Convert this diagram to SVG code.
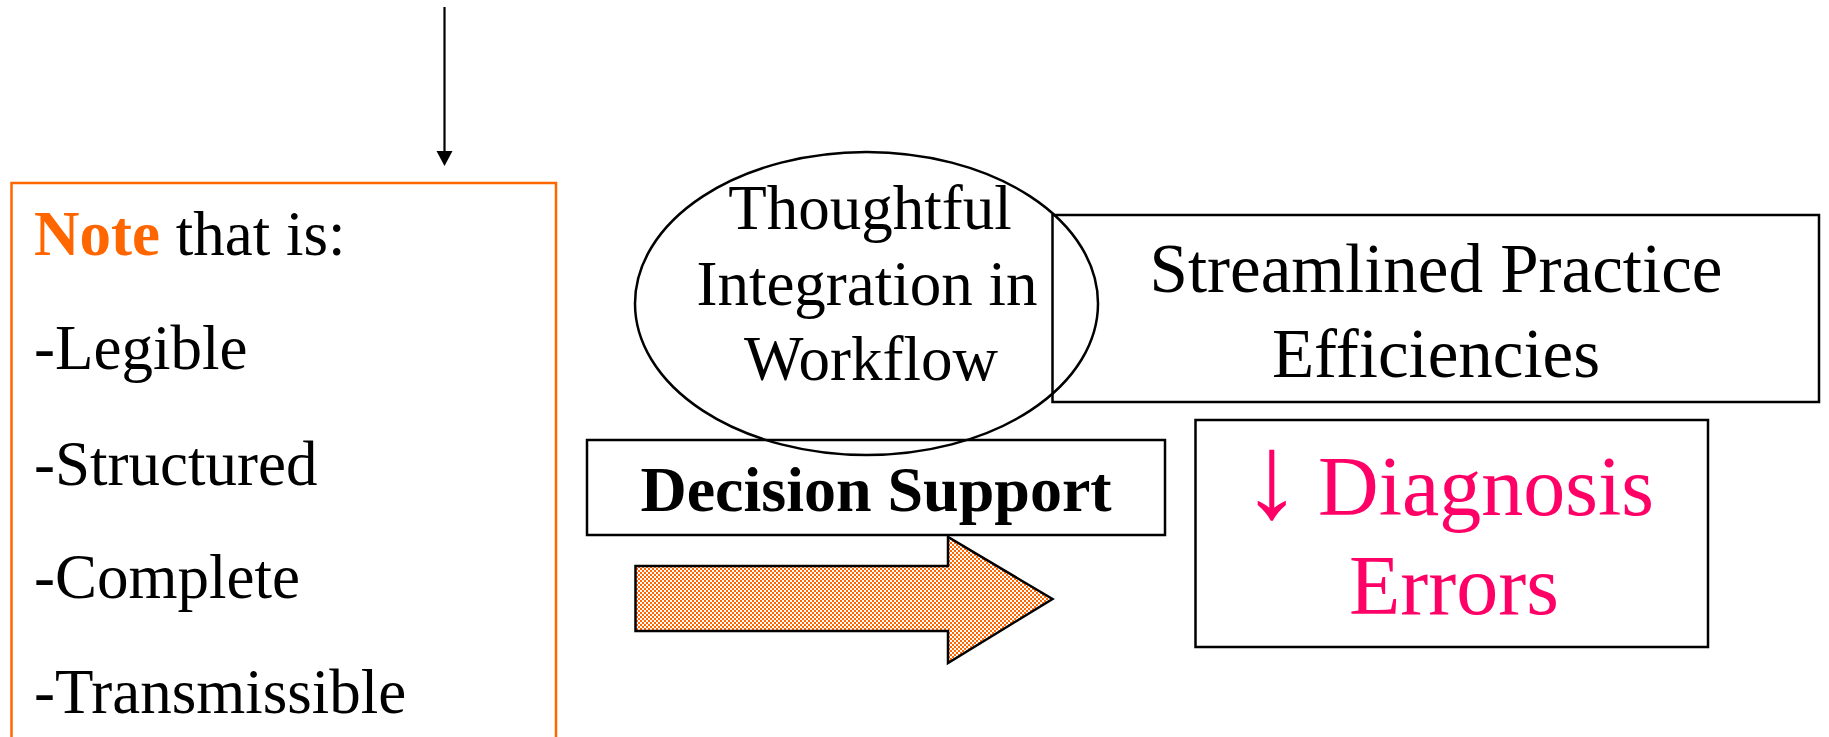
<svg xmlns="http://www.w3.org/2000/svg" width="1829" height="737" viewBox="0 0 1829 737">
  <style>
    .t { font-family: "Liberation Serif", "Times New Roman", serif; fill: #000; }
    .box { fill: #fff; stroke: #000; stroke-width: 2.5; }
    .pink { fill: #FF0066; }
  </style>
  <defs>
    <pattern id="checker" width="4" height="4" patternUnits="userSpaceOnUse">
      <rect width="4" height="4" fill="#fff"/>
      <rect width="2" height="2" fill="#FF6600"/>
      <rect x="2" y="2" width="2" height="2" fill="#FF6600"/>
    </pattern>
  </defs>

  <!-- connectors -->
  <g id="connectors">
    <line x1="444.5" y1="7" x2="444.5" y2="160" stroke="#000" stroke-width="2.2"/>
    <path d="M436.5,151 L452.5,151 L444.5,166 Z" fill="#000"/>
  </g>

  <!-- note list -->
  <g id="note">
    <rect x="11.5" y="183" width="544.5" height="580" fill="#fff" stroke="#FF6600" stroke-width="2.5"/>
    <text class="t" x="34" y="255" font-size="63"><tspan font-weight="bold" fill="#FF6600">Note</tspan> that is:</text>
    <text class="t" x="34" y="369" font-size="63">-Legible</text>
    <text class="t" x="34" y="485" font-size="63">-Structured</text>
    <text class="t" x="34" y="598" font-size="63">-Complete</text>
    <text class="t" x="34" y="713" font-size="63">-Transmissible</text>
  </g>

  <!-- efficiencies box -->
  <g id="efficiencies">
    <rect class="box" x="1052.5" y="215" width="766.5" height="187"/>
    <text class="t" x="1436" y="292" font-size="69" text-anchor="middle">Streamlined Practice</text>
    <text class="t" x="1436" y="377" font-size="69" text-anchor="middle">Efficiencies</text>
  </g>

  <!-- decision support label -->
  <g id="decision-support">
    <rect class="box" x="587" y="440" width="578" height="95"/>
    <text class="t" x="876" y="511" font-size="64" font-weight="bold" text-anchor="middle">Decision Support</text>
  </g>

  <!-- workflow ellipse, outline drawn over both neighbouring boxes -->
  <g id="workflow">
    <ellipse cx="866.5" cy="303.5" rx="231.5" ry="151.5" fill="none" stroke="#000" stroke-width="2.5"/>
    <text class="t" x="870" y="229" font-size="63" text-anchor="middle">Thoughtful</text>
    <text class="t" x="867" y="305" font-size="63" text-anchor="middle">Integration in</text>
    <text class="t" x="871" y="380" font-size="63" text-anchor="middle">Workflow</text>
  </g>

  <!-- block arrow -->
  <g id="block-arrow">
    <path d="M635.5,566 L948,566 L948,537 L1052.5,599 L948,663 L948,631 L635.5,631 Z" fill="url(#checker)" stroke="#000" stroke-width="2.5" stroke-linejoin="miter"/>
  </g>

  <!-- diagnosis errors box -->
  <g id="diagnosis">
    <rect class="box" x="1195.5" y="420" width="512.5" height="227"/>
    <text class="t pink" x="1272" y="517" font-size="120" text-anchor="middle">↓</text>
    <text class="t pink" x="1318" y="515" font-size="84">Diagnosis</text>
    <text class="t pink" x="1454" y="614" font-size="84" text-anchor="middle">Errors</text>
  </g>
</svg>
